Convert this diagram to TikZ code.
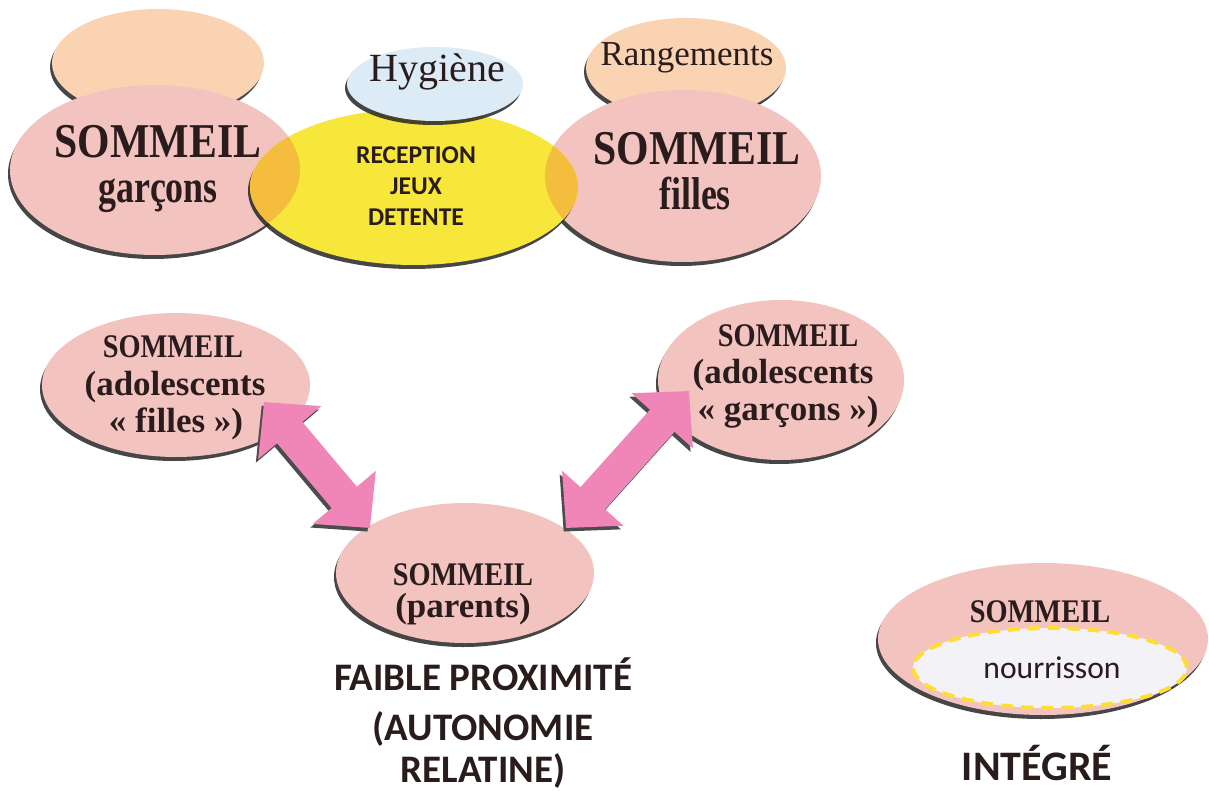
\documentclass[tikz,border=0pt]{standalone}
\usepackage{fontspec}
\setmainfont{Liberation Serif}
\newfontfamily\camb[FakeStretch=0.86]{Liberation Serif}
\newfontfamily\cambn[FakeStretch=0.78]{Liberation Serif}
\newfontfamily\calib{Carlito}
\usetikzlibrary{shapes.geometric,arrows.meta,shadows}
\definecolor{pk}{HTML}{F3C4BF}
\definecolor{orT}{HTML}{FAD4B2}
\definecolor{bl}{HTML}{DCEBF6}
\definecolor{yl}{HTML}{F7E73A}
\definecolor{ovl}{HTML}{F4BD3E}
\definecolor{arr}{HTML}{F086B8}
\definecolor{inr}{HTML}{F3F2F7}
\definecolor{dsh}{HTML}{FFDD33}
\definecolor{ink}{HTML}{2A1C1C}
\tikzset{
  ell/.style={ellipse, inner sep=0pt,
    drop shadow={shadow xshift=-1pt, shadow yshift=-2pt, opacity=0.85, fill=black!85}},
  txt/.style={anchor=base, inner sep=0pt, text=ink},
  big/.style={txt, font=\camb\bfseries\fontsize{24.3}{28}\selectfont},
  bigsub/.style={txt, font=\cambn\bfseries\fontsize{23}{24}\selectfont},
  midcap/.style={txt, font=\camb\bfseries\fontsize{16.5}{18}\selectfont},
  mid/.style={txt, font=\bfseries\fontsize{17.5}{18}\selectfont},
  sansb/.style={txt, font=\calib\bfseries\fontsize{12.8}{15.5}\selectfont},
  captxt/.style={txt, font=\calib\bfseries\fontsize{19.5}{21.5}\selectfont},
  dblarrow/.style={arr, line width=16.5pt,
    {Triangle[length=20pt,width=40pt]}-{Triangle[length=20pt,width=40pt]}},
  arrshadow/.style={black!70, line width=16.5pt,
    {Triangle[length=20pt,width=40pt]}-{Triangle[length=20pt,width=40pt]}}
}
\begin{document}
\begin{tikzpicture}[x=0.5pt, y=-0.5pt]
\useasboundingbox[fill=white] (0,0) rectangle (1209,791);

% ---- top group ----
\node[ell, fill=orT, minimum width=106pt, minimum height=54pt] (tl) at (158,63) {};
\node[ell, fill=orT, minimum width=100pt, minimum height=50pt] (rg) at (686,68) {};
\node[ell, fill=pk, minimum width=145pt, minimum height=85pt] (sg) at (155,170) {};
\node[ell, fill=pk, minimum width=138pt, minimum height=86pt] (sf) at (683,176) {};
\node[ell, fill=yl, minimum width=164pt, minimum height=78pt] (rec) at (414,187) {};
\begin{scope}
  \clip (414,187) ellipse [x radius=164, y radius=78];
  \fill[ovl] (155,170) ellipse [x radius=145, y radius=85];
  \fill[ovl] (683,176) ellipse [x radius=138, y radius=86];
\end{scope}
\node[ell, fill=bl, minimum width=88pt, minimum height=37pt] (hy) at (435,84) {};

\node[txt, font=\fontsize{20}{22}\selectfont] (hyt) at (437,82) {Hygiène};
\node[txt, font=\fontsize{17.5}{20}\selectfont] (rgt) at (687,66) {Rangements};
\node[big] (sgt1) at (158,158) {SOMMEIL};
\node[bigsub] (sgt2) at (158,203) {garçons};
\node[big] (sft1) at (697,165) {SOMMEIL};
\node[bigsub] (sft2) at (695,210) {filles};
\node[sansb] (rt1) at (416,164) {RECEPTION};
\node[sansb] (rt2) at (416,195) {JEUX};
\node[sansb] (rt3) at (416,226) {DETENTE};

% ---- middle group ----
\node[ell, fill=pk, minimum width=134pt, minimum height=72pt] (af) at (176,385) {};
\node[ell, fill=pk, minimum width=123pt, minimum height=80pt] (ag) at (781,380) {};
\node[ell, fill=pk, minimum width=129pt, minimum height=70pt] (pa) at (465,573) {};

\node[midcap] (aft1) at (173,357) {SOMMEIL};
\node[mid] (aft2) at (175,395) {(adolescents};
\node[mid] (aft3) at (176,432) {« filles »)};
\node[midcap] (agt1) at (788,346) {SOMMEIL};
\node[mid] (agt2) at (783,383) {(adolescents};
\node[mid] (agt3) at (788,420) {« garçons »)};
\node[midcap] (pat1) at (463,585) {SOMMEIL};
\node[mid] (pat2) at (463,617) {(parents)};

\coordinate (la) at (264,402);
\coordinate (lb) at (370,528);
\coordinate (ra) at (689,391);
\coordinate (rb) at (566,528);
\begin{scope}[transform canvas={shift={(-1.2pt,-1.8pt)}}]
  \draw[arrshadow] (la) -- (lb);
  \draw[arrshadow] (ra) -- (rb);
\end{scope}
\draw[dblarrow] (la) -- (lb);
\draw[dblarrow] (ra) -- (rb);

\node[captxt] (faible1) at (483,690) {FAIBLE PROXIMITÉ};
\node[captxt] (faible2) at (483,740) {(AUTONOMIE};
\node[captxt] (faible3) at (483,782) {RELATINE)};

% ---- right group ----
\node[ell, fill=pk, minimum width=165pt, minimum height=76pt] (ig) at (1043,639) {};
\node[midcap] (igt) at (1040,622) {SOMMEIL};
\node[ellipse, fill=inr, draw=dsh, line width=2pt, dash pattern=on 6pt off 4pt,
      minimum width=137pt, minimum height=40pt, inner sep=0pt] (nr) at (1050,668) {};
\node[txt, font=\calib\fontsize{15.8}{20}\selectfont] (nrt) at (1052,678) {nourrisson};
\node[txt, font=\calib\bfseries\fontsize{21}{24}\selectfont] (integre) at (1037,780) {INTÉGRÉ};
\end{tikzpicture}
\end{document}
